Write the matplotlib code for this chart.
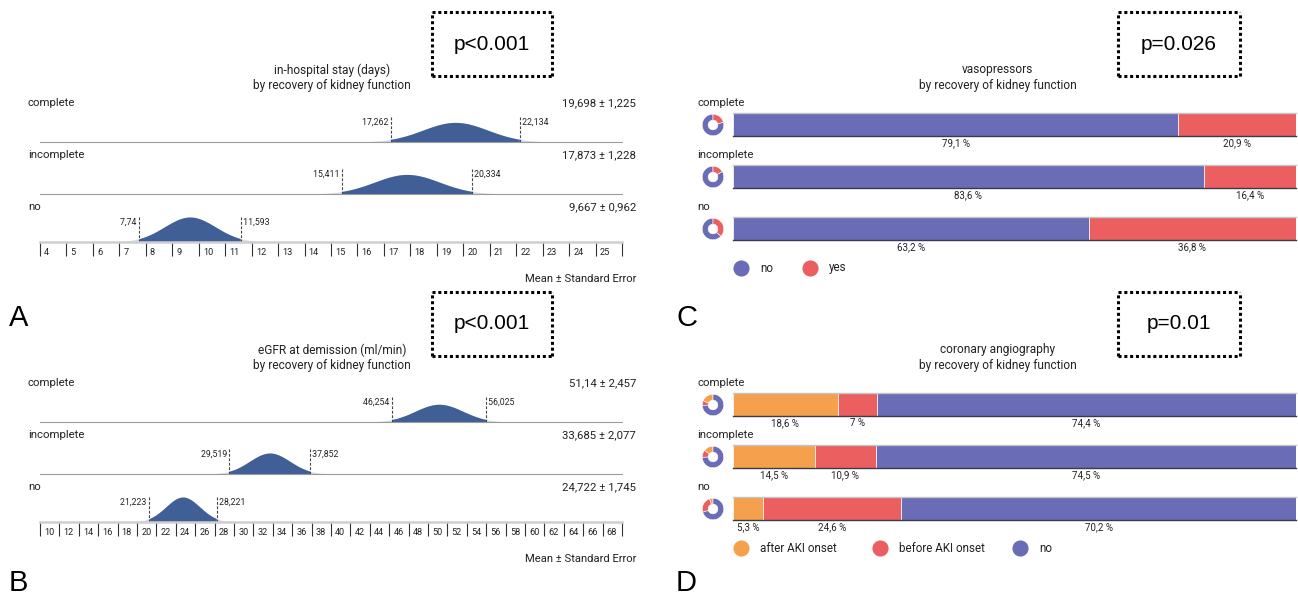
import numpy as np
import matplotlib.pyplot as plt
from matplotlib.transforms import ScaledTranslation

plt.rcParams['font.family'] = ['Roboto', 'DejaVu Sans']

# ---- data ----
groups = ['complete', 'incomplete', 'no']

stay_mean = [19.698, 17.873, 9.667]
stay_se = [1.225, 1.228, 0.962]
stay_lo = [17.262, 15.411, 7.74]
stay_hi = [22.134, 20.334, 11.593]

egfr_mean = [51.14, 33.685, 24.722]
egfr_se = [2.457, 2.077, 1.745]
egfr_lo = [46.254, 29.519, 21.223]
egfr_hi = [56.025, 37.852, 28.221]

vaso_labels = ['no', 'yes']
vaso_no = [79.1, 83.6, 63.2]
vaso_yes = [20.9, 16.4, 36.8]

angio_labels = ['after AKI onset', 'before AKI onset', 'no']
angio_after = [18.6, 14.5, 5.3]
angio_before = [7, 10.9, 24.6]
angio_no = [74.4, 74.5, 70.2]

W, H = 1298, 599
fig = plt.figure(figsize=(W / 100, H / 100), dpi=100)

DARK = '#405f97'
LIGHT = '#b7c6e2'
PURPLE = '#6a6cb5'
RED = '#ec5f60'
ORANGE = '#f5a04d'
TXT = '#222222'


def add_ax(x0, y0, x1, y1):
    return fig.add_axes([x0 / W, 1 - y1 / H, (x1 - x0) / W, (y1 - y0) / H])


def ftext(x, y, s, **kw):
    kw.setdefault('color', TXT)
    fig.text(x / W, 1 - y / H, s, **kw)


def fmt(v):
    return f'{v:g}'.replace('.', ',')


def pbox(x0, y0, x1, y1, s):
    ax = add_ax(x0, y0, x1, y1)
    ax.set_xticks([])
    ax.set_yticks([])
    for sp in ax.spines.values():
        sp.set_linestyle((0, (1, 0.9)))
        sp.set_linewidth(2.2)
        sp.set_capstyle('butt')
        sp.set_color('black')
    ax.text(0.5, 0.5, s, ha='center', va='center', fontsize=15,
            family=['Liberation Sans', 'DejaVu Sans'], color='black')


def title(xc, y, line1):
    ftext(xc, y, line1, ha='center', va='center', fontsize=8.6)
    ftext(xc, y + 16, 'by recovery of kidney function', ha='center', va='center', fontsize=8.6)


def letter_text(x, y, s):
    ftext(x, y, s, ha='left', va='center', fontsize=21,
          family=['Liberation Sans', 'DejaVu Sans'], color='black')


def dist_panel(dy, name, mean, se, lo, hi, xmin, xmax, step, letter, letter_y, pval):
    title(332, 70 + dy, name)
    pbox(432, 12 + dy, 552, 76 + dy, pval)
    label_y = [103, 155, 207]
    base_y = [142, 194, 242]
    xs = np.linspace(xmin, xmax, 800)
    top = max(1 / (np.sqrt(2 * np.pi) * s) for s in se) * 40 / 25
    for i, g in enumerate(groups):
        ftext(28, label_y[i] + dy, g, ha='left', va='center', fontsize=8.2)
        ftext(636, label_y[i] + dy, f'{fmt(mean[i])} ± {fmt(se[i])}', ha='right', va='center', fontsize=8.2)
        ax = add_ax(40, base_y[i] + dy - 40, 622, base_y[i] + dy)
        pdf = np.exp(-0.5 * ((xs - mean[i]) / se[i]) ** 2) / (np.sqrt(2 * np.pi) * se[i])
        ax.fill_between(xs, pdf, color=LIGHT, alpha=0.6, lw=0)
        m = (xs >= lo[i]) & (xs <= hi[i])
        ax.fill_between(xs[m], pdf[m], color=DARK, lw=0)
        ax.set_xlim(xmin, xmax)
        ax.set_ylim(0, top)
        tr = ax.get_xaxis_transform()
        ax.vlines([lo[i], hi[i]], 0, 0.62, transform=tr, colors='#444444', linestyles=(0, (2.5, 1.5)), lw=0.8)
        ax.text(lo[i], 0.5, fmt(lo[i]) + ' ', transform=tr, ha='right', va='center', fontsize=6.3, color=TXT)
        ax.text(hi[i], 0.5, ' ' + fmt(hi[i]), transform=tr, ha='left', va='center', fontsize=6.3, color=TXT)
        ax.patch.set_alpha(0)
        for s in ['top', 'left', 'right']:
            ax.spines[s].set_visible(False)
        ax.set_yticks([])
        if i < 2:
            ax.spines['bottom'].set_color('#9a9a9a')
            ax.spines['bottom'].set_linewidth(0.8)
            ax.set_xticks([])
        else:
            ax.spines['bottom'].set_color('#cfcfcf')
            ax.spines['bottom'].set_linewidth(1.8)
            ticks = np.arange(xmin, xmax + step / 2, step)
            ax.set_xticks(ticks)
            ax.set_xticklabels([f'{t:g}' for t in ticks[:-1]] + [''])
            ax.tick_params(axis='x', direction='out', length=10, width=0.8, color='#333333',
                           pad=-5.5, labelsize=6.6, labelcolor=TXT)
            off = ScaledTranslation(3 / 72, 0, fig.dpi_scale_trans)
            for lab in ax.get_xticklabels():
                lab.set_horizontalalignment('left')
                lab.set_verticalalignment('top')
                lab.set_transform(lab.get_transform() + off)
    ftext(636, 279 + dy, 'Mean ± Standard Error', ha='right', va='center', fontsize=8.1)
    letter_text(9, letter_y, letter)


def bar_panel(dy, name, series, colors, labels, letter, letter_y, pval, leg_x):
    title(998, 70 + dy, name)
    pbox(1118, 12 + dy, 1240, 76 + dy, pval)
    label_y = [103, 155, 207]
    for i, g in enumerate(groups):
        ftext(697, label_y[i] + dy, g, ha='left', va='center', fontsize=8.2)
        vals = [s[i] for s in series]
        top_y = label_y[i] + dy + 10
        # donut
        dax = add_ax(702, top_y + 1, 724, top_y + 23)
        dax.pie(vals, colors=colors, startangle=90, counterclock=True, radius=1,
                wedgeprops=dict(width=0.55, edgecolor='white', linewidth=0.4))
        dax.set_xlim(-1.02, 1.02)
        dax.set_ylim(-1.02, 1.02)
        dax.set_aspect('equal')
        # bar
        ax = add_ax(733, top_y, 1296, top_y + 23)
        left = 0
        for v, c in zip(vals, colors):
            ax.barh(0, v, left=left, height=1, color=c, edgecolor='white', linewidth=0.5)
            ax.annotate(fmt(v) + ' %', xy=(left + v / 2, 0), xycoords=('data', 'axes fraction'),
                        xytext=(0, -5), textcoords='offset points', ha='center', va='center',
                        fontsize=7, color=TXT)
            left += v
        ax.set_xlim(0, left)
        ax.set_ylim(-0.5, 0.5)
        ax.set_xticks([])
        ax.set_yticks([])
        ax.spines['left'].set_visible(False)
        ax.spines['right'].set_visible(False)
        ax.spines['top'].set_color('#c4c4c4')
        ax.spines['top'].set_linewidth(1.0)
        ax.spines['bottom'].set_color('#3a3a4a')
        ax.spines['bottom'].set_linewidth(1.0)
    # legend
    lax = add_ax(697, 256 + dy, 1296, 280 + dy)
    lax.set_xlim(697, 1296)
    lax.set_ylim(-1, 1)
    lax.axis('off')
    for x, c, lab in zip(leg_x, colors, labels):
        lax.scatter([x], [0], s=135, color=c, lw=0)
        lax.text(x + 19, 0, lab, ha='left', va='center', fontsize=8.4, color=TXT)
    letter_text(676, letter_y, letter)


dist_panel(0, 'in-hospital stay (days)', stay_mean, stay_se, stay_lo, stay_hi, 4, 26, 1, 'A', 318, 'p<0.001')
dist_panel(280, 'eGFR at demission (ml/min)', egfr_mean, egfr_se, egfr_lo, egfr_hi, 10, 70, 2, 'B', 583, 'p<0.001')
bar_panel(0, 'vasopressors', [vaso_no, vaso_yes], [PURPLE, RED], vaso_labels, 'C', 318, 'p=0.026', [741, 810])
bar_panel(280, 'coronary angiography', [angio_after, angio_before, angio_no], [ORANGE, RED, PURPLE],
          angio_labels, 'D', 583, 'p=0.01', [741, 880, 1020])

fig.savefig('out.png', dpi=100)
